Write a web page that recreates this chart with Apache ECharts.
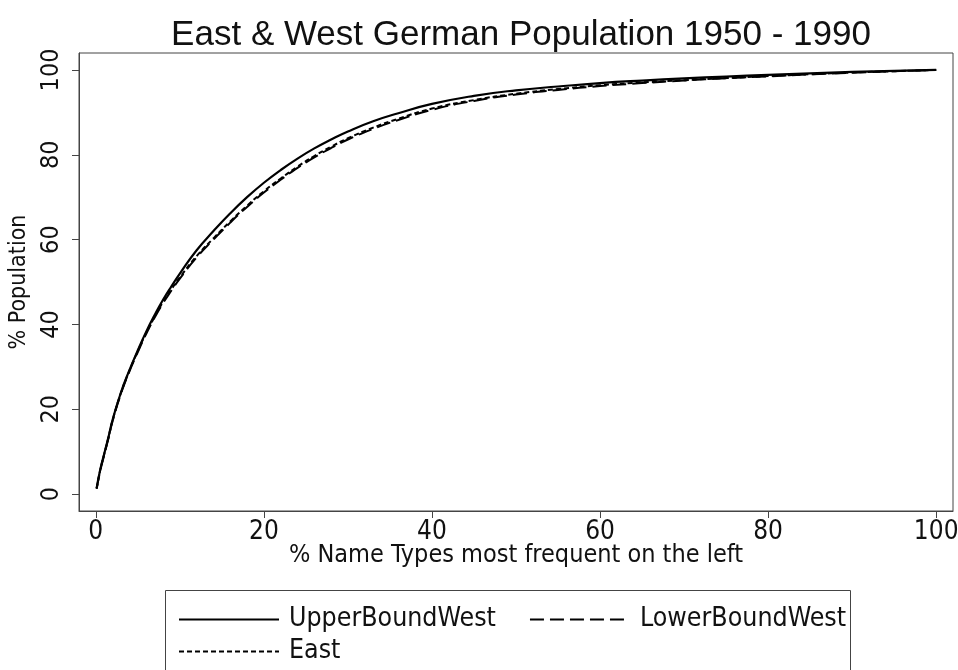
<!DOCTYPE html>
<html>
<head>
<meta charset="utf-8">
<script src="https://cdn.jsdelivr.net/npm/echarts@6/dist/echarts.min.js"></script>
<style>
  html, body { margin: 0; padding: 0; background: #fff; }
  #chart { width: 958px; height: 670px; }
</style>
</head>
<body>
<div id="chart"></div>
<script>
  // % name types (x)
  const shareTypes = [0.1, 0.5, 1, 1.5, 2, 3, 4, 5, 6, 7, 8, 9, 10, 12, 14, 16, 18, 20, 22, 24, 26, 28, 30, 33, 36, 40, 45, 50, 55, 60, 65, 70, 75, 80, 85, 90, 95, 100]
  // % population
  const upperWest = [1.4, 5.5, 9.5, 13.4, 17.5, 24, 29.2, 33.9, 38.3, 42.2, 45.8, 49, 52, 57.5, 62, 66.2, 70, 73.4, 76.4, 79.1, 81.5, 83.6, 85.5, 87.9, 89.8, 92, 93.9, 95.2, 96.1, 96.9, 97.5, 98, 98.45, 98.85, 99.2, 99.55, 99.8, 100]
  const lowerWest = [1.2, 5.2, 9.2, 13.1, 17.2, 23.7, 28.9, 33.5, 37.8, 41.6, 45, 48, 50.8, 55.8, 60, 64, 67.7, 71.1, 74.1, 76.9, 79.4, 81.6, 83.6, 86.1, 88.2, 90.6, 92.7, 94.2, 95.3, 96.2, 96.9, 97.5, 98.05, 98.5, 98.95, 99.35, 99.7, 100]
  const east = [1.3, 5.4, 9.4, 13.3, 17.4, 23.9, 29.1, 33.7, 38, 41.8, 45.3, 48.3, 51.1, 56.1, 60.3, 64.3, 68, 71.4, 74.4, 77.2, 79.7, 81.9, 83.9, 86.4, 88.5, 90.9, 92.9, 94.4, 95.5, 96.4, 97.05, 97.6, 98.1, 98.55, 99, 99.4, 99.7, 100]
  const xTicks = [0, 20, 40, 60, 80, 100]
  const yTicks = [0, 20, 40, 60, 80, 100]

  const font = '"Liberation Sans", Arial, sans-serif'
  const narrow = '"Liberation Sans Narrow", "Arial Narrow", "DejaVu Sans Condensed", sans-serif'
  function pairs(ys) {
    return shareTypes.map((x, i) => [x, ys[i]])
  }

  var chart = echarts.init(document.getElementById('chart'))
  const option = {
    backgroundColor: '#fff',
    animation: false,
    title: {
      text: 'East & West German Population 1950 - 1990',
      left: 516,
      textAlign: 'center',
      top: 13,
      textStyle: { fontFamily: font, fontSize: 35, fontWeight: 'normal', color: '#111' }
    },
    grid: {
      left: 79, right: 5, top: 53, bottom: 159,
      outerBoundsMode: 'none',
      show: true, borderColor: '#444', borderWidth: 1
    },
    xAxis: {
      type: 'value', min: -2, max: 102,
      name: '% Name Types most frequent on the left',
      nameLocation: 'middle', nameGap: 32, nameMoveOverlap: false,
      nameTextStyle: { fontFamily: narrow, fontSize: 25, color: '#111' },
      axisLine: { show: true, onZero: false, lineStyle: { color: '#444' } },
      axisTick: { show: true, length: 7, customValues: xTicks, lineStyle: { color: '#444' } },
      axisLabel: { customValues: xTicks, fontFamily: narrow, fontSize: 26, color: '#111', margin: 8 },
      splitLine: { show: false }
    },
    yAxis: {
      type: 'value', min: -4, max: 104,
      name: '% Population',
      nameLocation: 'middle', nameGap: 48,
      nameTextStyle: { fontFamily: narrow, fontSize: 23, color: '#111' },
      axisLine: { show: true, onZero: false, lineStyle: { color: '#444' } },
      axisTick: { show: true, length: 7, customValues: yTicks, lineStyle: { color: '#444' } },
      axisLabel: { customValues: yTicks, rotate: 90, fontFamily: narrow, fontSize: 25, color: '#111', margin: 15 },
      splitLine: { show: false }
    },
    legend: [
      {
        data: ['UpperBoundWest', 'LowerBoundWest'],
        left: 173, top: 601, itemWidth: 100, itemHeight: 14, itemGap: 33,
        itemStyle: { opacity: 0, borderWidth: 0 },
        textStyle: { fontFamily: narrow, fontSize: 26.5, color: '#111', padding: [0, 0, 0, 5] }
      },
      {
        data: ['East'],
        left: 173, top: 633, itemWidth: 100, itemHeight: 14,
        itemStyle: { opacity: 0, borderWidth: 0 },
        textStyle: { fontFamily: narrow, fontSize: 26.5, color: '#111', padding: [0, 0, 0, 5] }
      }
    ],
    graphic: [
      {
        type: 'rect',
        shape: { x: 165.5, y: 590.5, width: 685, height: 90 },
        style: { fill: 'none', stroke: '#444', lineWidth: 1 }
      }
    ],
    series: [
      {
        name: 'UpperBoundWest', type: 'line', data: pairs(upperWest),
        smooth: true, showSymbol: false, symbol: 'none', color: '#000',
        lineStyle: { color: '#000', width: 2.2, type: 'solid' }
      },
      {
        name: 'LowerBoundWest', type: 'line', data: pairs(lowerWest),
        smooth: true, showSymbol: false, symbol: 'none', color: '#000',
        lineStyle: { color: '#000', width: 2, type: [14, 6] }
      },
      {
        name: 'East', type: 'line', data: pairs(east),
        smooth: true, showSymbol: false, symbol: 'none', color: '#000',
        lineStyle: { color: '#000', width: 2, type: [5, 3] }
      }
    ]
  }
  chart.setOption(option)
  window.onresize = function () {
    chart.resize()
  }
</script>
</body>
</html>
